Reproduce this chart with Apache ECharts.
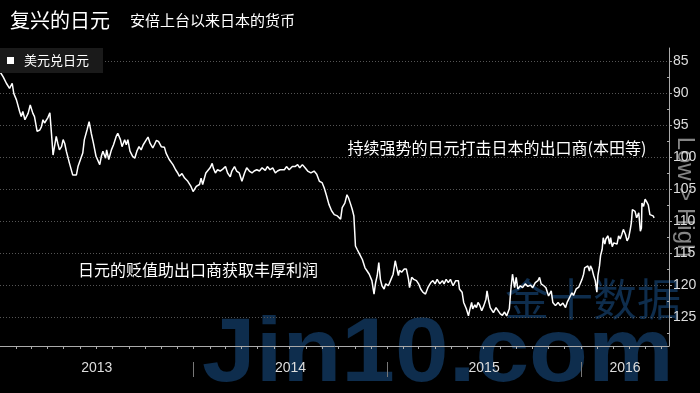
<!DOCTYPE html>
<html><head><meta charset="utf-8">
<script src="https://cdn.jsdelivr.net/npm/echarts@6/dist/echarts.min.js"></script>
<style>html,body{margin:0;padding:0;background:#000}#c{width:700px;height:393px}</style>
</head><body><div id="c"></div>
<script>
const titleText = '复兴的日元';
const subtitleText = '安倍上台以来日本的货币';
const seriesName = '美元兑日元';
const noteStrong = '持续强势的日元打击日本的出口商(本田等)';
const noteWeak = '日元的贬值助出口商获取丰厚利润';
const axisNote = 'Low > High';
const watermarkLatin = 'Jin10.com';
const watermarkCJK = '金十数据';
const yTicks = [85, 90, 95, 100, 105, 110, 115, 120, 125];
const yMinorTicks = [87.5, 92.5, 97.5, 102.5, 107.5, 112.5, 117.5, 122.5, 127.5];
const yearLabels = ['2013', '2014', '2015', '2016'];
const xStart = '2013-01-01';
const xEnd = '2016-06-15';

const dates = [
'2013-01-01','2013-01-07','2013-01-13','2013-01-16','2013-01-19','2013-01-24','2013-01-27','2013-02-01','2013-02-07','2013-02-10',
'2013-02-13','2013-02-17','2013-02-23','2013-02-27','2013-03-04','2013-03-07','2013-03-12','2013-03-17','2013-03-20','2013-03-23',
'2013-03-26','2013-04-01','2013-04-05','2013-04-08','2013-04-11','2013-04-14','2013-04-17','2013-04-20','2013-04-23','2013-04-27',
'2013-04-30','2013-05-03','2013-05-06','2013-05-12','2013-05-18','2013-05-25','2013-05-28','2013-05-31','2013-06-06','2013-06-09',
'2013-06-14','2013-06-18','2013-06-22','2013-06-26','2013-07-01','2013-07-08','2013-07-11','2013-07-14','2013-07-19','2013-07-21',
'2013-07-25','2013-07-30','2013-08-03','2013-08-08','2013-08-11','2013-08-16','2013-08-19','2013-08-24','2013-08-27','2013-08-30',
'2013-09-03','2013-09-08','2013-09-12','2013-09-16','2013-09-20','2013-09-24','2013-09-28','2013-10-04','2013-10-07','2013-10-11',
'2013-10-16','2013-10-19','2013-10-23','2013-10-27','2013-11-01','2013-11-04','2013-11-07','2013-11-10','2013-11-16','2013-11-23',
'2013-11-28','2013-12-02','2013-12-05','2013-12-10','2013-12-15','2013-12-21','2013-12-27','2013-12-31',
'2014-01-06','2014-01-12','2014-01-15','2014-01-18','2014-01-21','2014-01-24','2014-01-27','2014-02-01','2014-02-05','2014-02-07',
'2014-02-11','2014-02-15','2014-02-20','2014-02-25','2014-03-02','2014-03-06','2014-03-11','2014-03-14','2014-03-19','2014-03-23',
'2014-03-28','2014-04-02','2014-04-07','2014-04-11','2014-04-16','2014-04-21','2014-04-25','2014-04-30','2014-05-05','2014-05-10',
'2014-05-16','2014-05-20','2014-05-25','2014-05-30','2014-06-04','2014-06-08','2014-06-13','2014-06-16','2014-06-21','2014-06-25',
'2014-06-30','2014-07-03','2014-07-06','2014-07-11','2014-07-16','2014-07-20','2014-07-25','2014-07-30','2014-08-04','2014-08-10',
'2014-08-16','2014-08-21','2014-08-26','2014-08-31','2014-09-04','2014-09-08','2014-09-13','2014-09-18','2014-09-23','2014-09-29',
'2014-10-02','2014-10-05','2014-10-08','2014-10-13','2014-10-17','2014-10-20','2014-10-24','2014-10-27','2014-10-30','2014-11-02',
'2014-11-05','2014-11-10','2014-11-15','2014-11-20','2014-11-24','2014-11-28','2014-12-03','2014-12-07','2014-12-10','2014-12-13',
'2014-12-16','2014-12-19','2014-12-22','2014-12-26','2014-12-29',
'2015-01-03','2015-01-08','2015-01-12','2015-01-16','2015-01-18','2015-01-22','2015-01-24','2015-01-28','2015-02-02','2015-02-06',
'2015-02-10','2015-02-12','2015-02-16','2015-02-20','2015-02-25','2015-03-01','2015-03-05','2015-03-09','2015-03-14','2015-03-19',
'2015-03-24','2015-03-28','2015-04-01','2015-04-05','2015-04-10','2015-04-15','2015-04-18','2015-04-22','2015-04-26','2015-04-30',
'2015-05-05','2015-05-10','2015-05-15','2015-05-17','2015-05-22','2015-05-25','2015-05-30','2015-06-03','2015-06-05','2015-06-09',
'2015-06-11','2015-06-15','2015-06-18','2015-06-21','2015-06-24','2015-06-28','2015-07-02','2015-07-06','2015-07-08','2015-07-11',
'2015-07-14','2015-07-17','2015-07-20','2015-07-25','2015-07-28','2015-08-02','2015-08-06','2015-08-10','2015-08-14','2015-08-19',
'2015-08-22','2015-08-25','2015-08-29','2015-09-01','2015-09-04','2015-09-09','2015-09-13','2015-09-18','2015-09-23','2015-09-28',
'2015-10-02','2015-10-07','2015-10-12','2015-10-15','2015-10-18','2015-10-23','2015-10-27','2015-11-01','2015-11-06','2015-11-09',
'2015-11-14','2015-11-19','2015-11-23','2015-11-28','2015-12-03','2015-12-06','2015-12-09','2015-12-12','2015-12-15','2015-12-18',
'2015-12-23','2015-12-28',
'2016-01-03','2016-01-06','2016-01-08','2016-01-11','2016-01-14','2016-01-17','2016-01-19','2016-01-22','2016-01-25','2016-01-28',
'2016-01-31','2016-02-02','2016-02-05','2016-02-07','2016-02-10','2016-02-12','2016-02-15','2016-02-17','2016-02-21','2016-02-24',
'2016-02-26','2016-02-29','2016-03-03','2016-03-06','2016-03-09','2016-03-12','2016-03-15','2016-03-18','2016-03-21','2016-03-25',
'2016-03-28','2016-03-31','2016-04-03','2016-04-05','2016-04-07','2016-04-09','2016-04-12','2016-04-15','2016-04-19','2016-04-22',
'2016-04-24','2016-04-25','2016-04-28','2016-05-01','2016-05-04','2016-05-07','2016-05-10','2016-05-13','2016-05-16','2016-05-18'
];

const values = [
86.7,87.5,88.5,88.2,89.3,88.5,90.1,91.1,92.9,93.7,
92.9,94.2,93.2,91.9,93.2,93.7,96.0,95.8,95.3,94.2,
94.7,93.9,93.1,96.3,99.7,99.4,96.8,97.9,98.9,98.4,
97.3,97.9,99.1,101.0,102.8,102.8,101.5,101.2,99.4,97.3,
95.8,94.5,96.3,97.8,99.9,101.2,99.9,99.1,100.2,98.9,
100.4,98.9,98.1,96.8,96.3,97.3,98.4,97.3,98.1,97.3,
99.1,99.9,100.2,99.1,98.4,98.9,98.1,97.3,96.9,97.9,
98.6,98.1,97.4,97.6,98.4,98.6,98.5,99.4,100.4,101.2,
102.0,102.5,103.0,102.6,103.3,103.8,104.6,105.4,
104.6,104.3,103.3,104.3,104.0,102.5,102.2,101.7,101.0,101.7,
102.5,102.0,102.2,101.9,101.5,102.5,103.1,102.2,101.5,102.2,
102.5,103.8,102.5,101.7,102.2,102.5,102.2,102.0,102.2,101.7,
102.1,101.5,102.0,101.7,102.5,102.2,102.0,101.9,102.0,101.5,
102.0,101.7,101.5,101.5,101.2,101.7,101.2,101.7,102.2,102.5,
102.2,102.7,103.8,104.0,104.8,105.9,107.4,108.4,109.0,109.2,
109.0,109.7,107.9,107.2,105.9,106.4,107.4,108.2,109.2,113.9,
114.4,115.2,116.0,117.3,117.8,118.3,119.3,121.4,119.6,118.5,
116.5,119.1,120.1,120.6,119.8,
120.1,119.1,118.3,116.2,117.0,118.5,117.7,118.0,117.5,117.5,
119.1,120.4,118.8,119.1,119.3,119.8,120.6,121.1,121.4,120.3,
119.6,119.3,119.8,119.1,119.8,119.3,119.8,119.1,119.6,119.1,
120.1,119.3,119.3,120.6,121.1,122.7,123.7,124.8,124.0,122.7,
123.7,123.1,123.5,122.7,123.1,124.0,123.2,122.2,120.9,122.4,
123.5,123.2,124.3,123.5,123.7,124.5,124.7,124.2,124.8,123.7,
120.6,118.3,120.4,118.8,120.6,120.1,120.4,119.8,120.2,120.0,
120.4,119.6,119.3,118.8,119.8,120.1,120.4,121.7,120.9,122.7,
123.2,122.7,123.2,122.8,123.5,122.7,123.0,121.7,121.2,121.6,
120.6,120.3,
119.1,118.3,117.3,117.5,117.0,117.8,117.0,117.5,118.5,119.3,
121.1,118.5,117.0,115.4,114.4,112.6,113.6,112.8,112.3,113.6,
112.6,114.0,113.4,113.1,113.6,112.3,112.8,112.1,111.3,112.1,
113.1,112.6,111.3,110.3,108.2,108.1,108.5,109.5,108.7,111.6,
111.1,107.2,107.7,106.6,107.0,107.5,109.0,108.8,109.2,109.5
];

const numFont = '"Liberation Sans Narrow", "Liberation Sans", sans-serif';
const cjkFont = '"Noto Sans CJK SC", sans-serif';

const toTime = s => echarts.time.parse(s).getTime();
const tMin = toTime(xStart);
const tMax = toTime(xEnd);
const monthTicks = [];
for (let y = 2013; y <= 2016; y++) {
  for (let m = 0; m < 12; m++) {
    const t = new Date(y, m, 1).getTime();
    if (t > tMin && t <= tMax) monthTicks.push(t);
  }
}
const yearStarts = yearLabels.map(y => new Date(+y, 0, 1).getTime()).filter(t => t > tMin);
const yearMids = yearLabels.map(y => {
  const a = Math.max(new Date(+y, 0, 1).getTime(), tMin);
  const b = Math.min(new Date(+y + 1, 0, 1).getTime(), tMax);
  return (a + b) / 2;
});

const chart = echarts.init(document.getElementById('c'), null, {renderer: 'canvas'});
chart.setOption({
  backgroundColor: '#000',
  animation: false,
  title: [
    {text: titleText, left: 10, top: 10, padding: 0,
     textStyle: {color: '#fff', fontSize: 20, fontWeight: 'normal', fontFamily: cjkFont}},
    {text: subtitleText, left: 130, top: 13, padding: 0,
     textStyle: {color: '#fff', fontSize: 15, fontWeight: 'normal', fontFamily: cjkFont}}
  ],
  legend: {
    data: [{name: seriesName, icon: 'rect'}],
    left: 0, top: 48, itemWidth: 7, itemHeight: 7,
    backgroundColor: '#1a1a1a', padding: [6, 14, 6, 7],
    selectedMode: false,
    textStyle: {color: '#fff', fontSize: 13, fontFamily: cjkFont, padding: [0, 0, 0, 5]}
  },
  grid: {left: 0, right: 31, top: 48, bottom: 47, containLabel: false},
  xAxis: [
    {type: 'value', min: tMin, max: tMax, position: 'bottom',
     axisLine: {show: true, lineStyle: {color: '#aaa', width: 1}},
     axisTick: {show: true, customValues: monthTicks, length: 3, lineStyle: {color: '#aaa'}},
     axisLabel: {show: true, customValues: yearMids, margin: 15,
       formatter: v => String(new Date(v).getFullYear()),
       color: '#ddd', fontSize: 14, fontFamily: numFont},
     splitLine: {show: false}},
    {type: 'value', min: tMin, max: tMax, position: 'bottom', offset: 16,
     axisLine: {show: false},
     axisTick: {show: true, customValues: yearStarts, length: 15, lineStyle: {color: '#777'}},
     axisLabel: {show: false}, splitLine: {show: false}}
  ],
  yAxis: [
    {type: 'value', inverse: true, min: 83, max: 129.5, position: 'right',
     axisLine: {show: true, lineStyle: {color: '#aaa'}},
     axisTick: {show: true, customValues: yTicks, length: 3, lineStyle: {color: '#aaa'}},
     axisLabel: {show: true, customValues: yTicks, margin: 4, color: '#ddd', fontSize: 14, fontFamily: numFont},
     splitLine: {show: true, lineStyle: {color: '#555', type: [1, 2], width: 1}}},
    {type: 'value', inverse: true, min: 83, max: 129.5, position: 'right',
     axisLine: {show: false},
     axisTick: {show: true, inside: true, customValues: yMinorTicks, length: 2, lineStyle: {color: '#aaa'}},
     axisLabel: {show: false}, splitLine: {show: false}}
  ],
  graphic: [
    {type: 'text', x: 202, y: 355.5, scaleX: 1.06, z: -10, silent: true,
     style: {text: watermarkLatin, font: 'bold 91px "Liberation Sans", sans-serif', fill: '#0e2d4d',
       textAlign: 'left', textVerticalAlign: 'middle'}},
    {type: 'text', x: 505, y: 299, z: -10, silent: true,
     style: {text: watermarkCJK, font: '44px "Noto Sans CJK SC", sans-serif', fill: '#0e2d4d',
       textAlign: 'left', textVerticalAlign: 'middle'}},
    {type: 'text', x: 685, y: 197, rotation: -Math.PI / 2, z: -5, silent: true,
     style: {text: axisNote, font: '24px "Liberation Sans", sans-serif', fill: '#858585',
       textAlign: 'center', textVerticalAlign: 'middle'}},
    {type: 'text', x: 497, y: 148, silent: true,
     style: {text: noteStrong, font: '16px "Noto Sans CJK SC", sans-serif', fill: '#fff',
       textAlign: 'center', textVerticalAlign: 'middle'}},
    {type: 'text', x: 198, y: 270, silent: true,
     style: {text: noteWeak, font: '16px "Noto Sans CJK SC", sans-serif', fill: '#fff',
       textAlign: 'center', textVerticalAlign: 'middle'}}
  ],
  series: [{
    name: seriesName, type: 'line', xAxisIndex: 0, yAxisIndex: 0,
    data: dates.map((d, i) => [toTime(d), values[i]]),
    showSymbol: false, symbol: 'none',
    lineStyle: {color: '#fff', width: 1.5},
    itemStyle: {color: '#fff'}
  }]
});
</script>
</body></html>
